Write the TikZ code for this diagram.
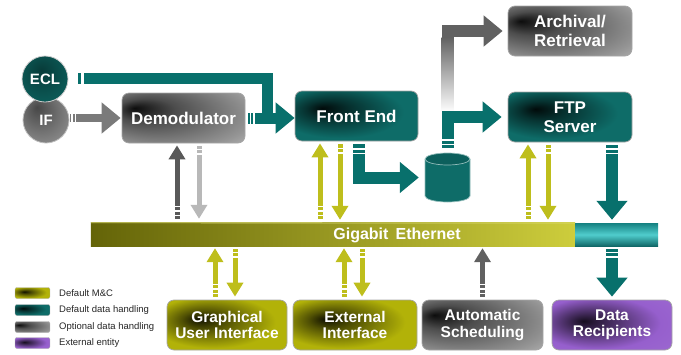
\documentclass[tikz,border=0pt]{standalone}
\usepackage{fontspec}
\setmainfont{Liberation Sans}
\usetikzlibrary{arrows.meta,calc}
\definecolor{tealc}{RGB}{14,108,104}
\definecolor{tealarr}{RGB}{8,112,108}
\definecolor{olivec}{RGB}{178,178,8}
\definecolor{olivearr}{RGB}{190,190,28}
\definecolor{purplec}{RGB}{150,95,205}
\definecolor{olivedark}{RGB}{100,100,8}
\definecolor{olivelight}{RGB}{205,205,60}
\definecolor{cyanmid}{RGB}{80,205,205}
\definecolor{cyandark}{RGB}{20,128,128}
\pgfdeclareradialshading{tealblob}{\pgfpoint{-14bp}{8bp}}{color(0bp)=(black!90!tealc); color(9bp)=(tealc!45!black); color(26bp)=(tealc); color(50bp)=(tealc)}
\pgfdeclareradialshading{oliveblob}{\pgfpoint{-12bp}{6bp}}{color(0bp)=(black!90!olivec); color(9bp)=(olivec!45!black); color(26bp)=(olivec); color(50bp)=(olivec)}
\pgfdeclareradialshading{purpleblob}{\pgfpoint{-12bp}{4bp}}{color(0bp)=(black!85!purplec); color(9bp)=(purplec!45!black); color(26bp)=(purplec); color(50bp)=(purplec!90!white)}
\pgfdeclareradialshading{grayblob}{\pgfpoint{-20bp}{10bp}}{color(0bp)=(black!95); color(12bp)=(black!70); color(34bp)=(black!42); color(50bp)=(black!18)}
\pgfdeclareradialshading{tealcirc}{\pgfpoint{-4bp}{10bp}}{color(0bp)=(tealc!55!black); color(25bp)=(tealc!80!black); color(50bp)=(tealc)}
\pgfdeclareradialshading{graycirc}{\pgfpoint{-10bp}{14bp}}{color(0bp)=(black!72); color(30bp)=(black!48); color(50bp)=(black!28)}
\newcommand\hstr[3]{\foreach \q in {#3}{\draw[stripe] ({#1+\q},{#2-8}) -- ({#1+\q},{#2+8});}}
\newcommand\vstr[3]{\foreach \q in {#3}{\draw[stripe] ({#1-8},{#2+\q}) -- ({#1+8},{#2+\q});}}
\tikzset{
  box/.style={rounded corners=7pt, inner sep=0pt, text=white, align=center,
    draw=black!35, line width=0.7pt, shade},
  topbox/.style={box, minimum width=123pt, minimum height=50pt,
    font=\bfseries\fontsize{17}{19}\selectfont},
  botbox/.style={box, minimum width=121pt, minimum height=50pt,
    font=\bfseries\fontsize{15.5}{16.5}\selectfont},
  tealbox/.style={shading=tealblob},
  olivebox/.style={shading=oliveblob},
  graybox/.style={shading=grayblob},
  purplebox/.style={shading=purpleblob},
  bigarrow/.style={line width=11pt, draw=tealarr, line join=miter,
    -{Triangle[width=30pt,length=19pt]}},
  smallarrow/.style={line width=5pt, draw=olivearr,
    -{Triangle[width=16pt,length=14pt]}},
  stripe/.style={draw=white, line width=1.8pt},
  swatch/.style={rounded corners=2pt, minimum width=35pt, minimum height=11pt,
    inner sep=0pt, draw=black!30, line width=0.4pt, shade},
  legtext/.style={anchor=west, inner sep=0pt, text=black!85,
    font=\fontsize{9.5}{10}\selectfont},
}
\begin{document}
\begin{tikzpicture}[x=1pt,y=-1pt]
\useasboundingbox (0,0) rectangle (681,354);

% ---------- circles ----------
\node[circle, minimum size=46pt, inner sep=0pt, shade, shading=graycirc,
  draw=black!25, line width=0.8pt, text=white,
  font=\bfseries\fontsize{15}{15}\selectfont] (if) at (46,120) {IF};
\node[circle, minimum size=46pt, inner sep=0pt, shade, shading=tealcirc,
  draw=black!20, line width=0.8pt, text=white,
  font=\bfseries\fontsize{15}{15}\selectfont] (ecl) at (45,79) {ECL};

% ---------- boxes ----------
\node[topbox, graybox] (demod) at (183.5,118) {Demodulator};
\node[topbox, tealbox] (fe) at (356.5,116) {Front End};
\node[topbox, graybox, minimum width=124pt] (arch) at (570,31) {Archival/\\Retrieval};
\node[topbox, tealbox, minimum width=124pt] (ftp) at (570,117) {FTP\\Server};

\node[botbox, olivebox, minimum width=120pt] (gui) at (227,325) {Graphical\\User Interface};
\node[botbox, olivebox, minimum width=124pt] (ext) at (355,325) {External\\Interface};
\node[botbox, graybox] (auto) at (482.5,325) {Automatic\\Scheduling};
\node[botbox, purplebox, minimum width=120pt] (data) at (612,325) {Data\\Recipients};

% ---------- database cylinder ----------
\node[minimum width=45pt, minimum height=49pt, inner sep=0pt] (db) at (447.5,177.5) {};
\fill[tealc] (425,159) -- (425,196) arc[start angle=180,end angle=0,x radius=22.5,y radius=6] -- (470,159) -- cycle;
\draw[tealc!45!white, line width=0.7pt] (425,159) -- (425,196) arc[start angle=180,end angle=0,x radius=22.5,y radius=6] -- (470,159);
\filldraw[fill=tealc!88!black, draw=tealc!45!white, line width=0.7pt] (447.5,159) ellipse[x radius=22.5, y radius=6];

% ---------- Gigabit Ethernet bar ----------
\node[minimum width=567pt, minimum height=23pt, inner sep=0pt] (eth) at (374.5,234.5) {};
\coordinate (split) at (575,223);
\shade[left color=olivedark, right color=olivelight] (eth.north west) rectangle (split |- eth.south);
\shade[top color=cyandark, bottom color=cyandark!80!black, middle color=cyanmid] (split) rectangle (eth.south east);
\draw[olivelight!70!white, line width=0.8pt] (eth.north west) -- (split);
\node[text=white, font=\bfseries\fontsize{16}{16}\selectfont] (ethlabel) at (397,235) {Gigabit\hspace{0.45em}Ethernet};

% ---------- top-row connectors ----------
\draw[bigarrow, line width=8pt, draw=black!52, shorten <=1pt, shorten >=1pt]
  (if.east |- demod.west) -- (demod.west);
\hstr{70}{118}{2,5.5}

\coordinate (j) at (267,78);
\draw[line width=11pt, draw=tealarr, line join=miter, shorten <=10pt]
  (ecl.east |- j) -- (j) -- (j |- demod.east);
\hstr{78}{78}{3.5,5}

\draw[bigarrow, shorten <=3pt] (demod.east) -- (demod.east -| fe.west);
\hstr{248}{118}{2.5,6}

\coordinate (fedb) at ($(fe.south)+(2.5,0)$);
\draw[bigarrow, line width=12pt, shorten <=3pt, shorten >=6pt] (fedb) |- (db.west);
\vstr{359}{145}{4,8.5}

\coordinate (jb) at (db.north |- ftp.west);
\draw[bigarrow, draw=black!62, line width=12pt, shorten >=5pt]
  ($(jb)+(0,-6)$) |- (arch.west);
\shade[top color=black!62, bottom color=white] (441.5,37) rectangle (453.5,112);
\draw[bigarrow, line width=12pt, shorten <=5pt, shorten >=6pt] (db.north) |- (ftp.west);
\vstr{447.5}{148}{-3.5,-8}

% ---------- connectors to the bar ----------
\coordinate (du) at ($(demod.south)+(-6.5,0)$);
\coordinate (dd) at ($(demod.south)+(15.5,0)$);
\draw[smallarrow, draw=black!65, shorten <=4pt, shorten >=2pt] (du |- eth.north) -- (du);
\vstr{177}{219}{-3.5,-8,-12.5}
\draw[smallarrow, draw=black!28, shorten <=3pt, shorten >=4pt] (dd) -- (dd |- eth.north);
\vstr{199}{146}{3.5,8}

\coordinate (feu) at ($(fe.south)+(-36.5,0)$);
\coordinate (fed) at ($(fe.south)+(-16.5,0)$);
\draw[smallarrow, shorten <=4pt, shorten >=2pt] (feu |- eth.north) -- (feu);
\vstr{320}{219}{-3.5,-8,-12.5}
\draw[smallarrow, shorten <=3pt, shorten >=3pt] (fed) -- (fed |- eth.north);
\vstr{340}{145}{3.5,8}

\coordinate (ftu) at ($(ftp.south)+(-42,0)$);
\coordinate (ftd) at ($(ftp.south)+(-22,0)$);
\coordinate (ftt) at ($(ftp.south)+(42,0)$);
\draw[smallarrow, shorten <=4pt, shorten >=2pt] (ftu |- eth.north) -- (ftu);
\vstr{528}{219}{-3.5,-8,-12.5}
\draw[smallarrow, shorten <=3pt, shorten >=3pt] (ftd) -- (ftd |- eth.north);
\vstr{548}{145}{3.5,8}
\draw[bigarrow, line width=12pt, shorten <=3pt, shorten >=3pt] (ftt) -- (ftt |- eth.north);
\vstr{612}{145}{4,8.5}

% ---------- bottom connectors ----------
\coordinate (gu) at ($(gui.north)+(-12,0)$);
\coordinate (gd) at ($(gui.north)+(8,0)$);
\draw[smallarrow, shorten <=3pt, shorten >=2pt] (gu) -- (gu |- eth.south);
\vstr{215}{297}{-3.5,-8,-12.5}
\draw[smallarrow, shorten <=3pt, shorten >=3pt] (gd |- eth.south) -- (gd);
\vstr{235}{249}{3.5,8}

\coordinate (eu) at ($(ext.north)+(-11,0)$);
\coordinate (ed) at ($(ext.north)+(7,0)$);
\draw[smallarrow, shorten <=3pt, shorten >=2pt] (eu) -- (eu |- eth.south);
\vstr{344}{297}{-3.5,-8,-12.5}
\draw[smallarrow, shorten <=3pt, shorten >=3pt] (ed |- eth.south) -- (ed);
\vstr{362}{249}{3.5,8}

\draw[smallarrow, draw=black!62, shorten <=3pt, shorten >=2pt] (auto.north) -- (auto.north |- eth.south);
\vstr{482.5}{297}{-3.5,-8,-12.5}

\draw[bigarrow, line width=12pt, shorten <=3pt, shorten >=3pt] (data.north |- eth.south) -- (data.north);
\vstr{612}{249}{3.5,8}

% ---------- legend ----------
\node[swatch, shading=oliveblob] (s1) at (32.5,293) {};
\node[swatch, shading=tealblob] (s2) at (32.5,310) {};
\node[swatch, shading=grayblob] (s3) at (32.5,327) {};
\node[swatch, shading=purpleblob] (s4) at (32.5,343) {};
\node[legtext] (t1) at (59,293) {Default M\&C};
\node[legtext] (t2) at (59,310) {Default data handling};
\node[legtext] (t3) at (59,327) {Optional data handling};
\node[legtext] (t4) at (59,343) {External entity};
\end{tikzpicture}
\end{document}
